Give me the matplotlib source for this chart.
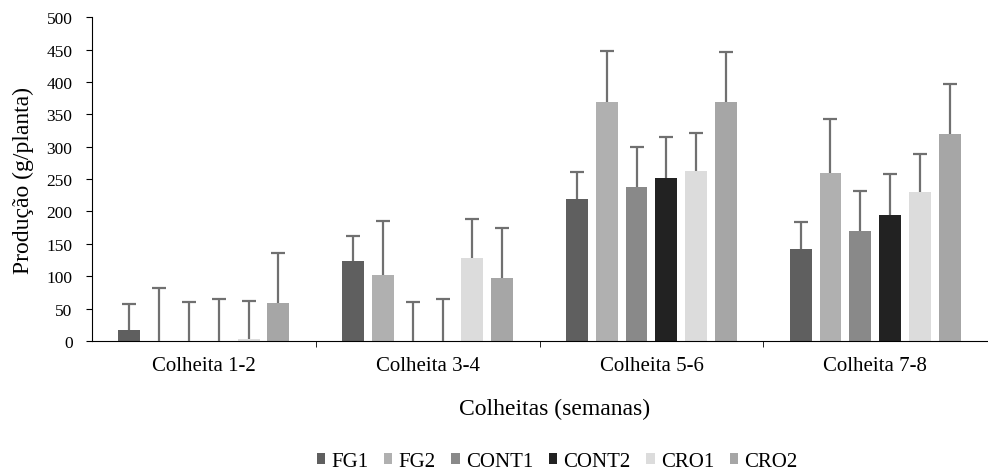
import numpy as np
import matplotlib.pyplot as plt

plt.rcParams['font.family'] = ['Liberation Serif', 'DejaVu Serif']

categorias = ['Colheita 1-2', 'Colheita 3-4', 'Colheita 5-6', 'Colheita 7-8']
series = ['FG1', 'FG2', 'CONT1', 'CONT2', 'CRO1', 'CRO2']

# medias (g/planta)
fg1 = [17, 123, 219, 142]
fg2 = [0, 102, 369, 259]
cont1 = [0, 0, 238, 170]
cont2 = [0, 0, 252, 194]
cro1 = [3, 128, 262, 230]
cro2 = [59, 97, 369, 319]

# desvio (barra de erro para cima)
fg1_err = [40, 39, 42, 42]
fg2_err = [82, 83, 79, 84]
cont1_err = [60, 60, 61, 61]
cont2_err = [65, 65, 63, 64]
cro1_err = [59, 60, 59, 59]
cro2_err = [77, 77, 77, 78]

valores = [fg1, fg2, cont1, cont2, cro1, cro2]
erros = [fg1_err, fg2_err, cont1_err, cont2_err, cro1_err, cro2_err]
cores = ['#5f5f5f', '#b0b0b0', '#898989', '#222222', '#dcdcdc', '#a6a6a6']

fig = plt.figure(figsize=(9.88, 4.77), dpi=100)
ax = fig.add_axes([0.0931, 0.283, 0.906, 0.679])

x = np.arange(len(categorias))
passo = 0.1333
larg = 0.098
for i, (nome, v, e, c) in enumerate(zip(series, valores, erros, cores)):
	pos = x + (i - 2.5) * passo
	v = np.array(v)
	topo = v + np.array(e)
	ax.bar(pos, v, larg, color=c, label=nome, zorder=2)
	# so a metade de cima da barra de erro
	ax.vlines(pos, v, topo, colors='#707070', linewidth=1.6, zorder=3)
	ax.plot(pos, topo, linestyle='none', marker='_', markersize=10,
			markeredgewidth=1.6, color='#707070', zorder=3)

ax.set_xlim(-0.5, len(categorias) - 0.5)
ax.set_ylim(0, 500)
ax.set_yticks(range(0, 501, 50))
ax.set_xticks(x)
ax.set_xticklabels(categorias, fontsize=15)
ax.set_xticks(np.arange(0.5, len(categorias) - 0.5, 1), minor=True)
ax.tick_params(axis='x', which='major', length=0, pad=11)
ax.tick_params(axis='x', which='minor', length=4, direction='out')
ax.tick_params(axis='y', labelsize=12.5, length=4, direction='out', pad=10)
ax.spines['top'].set_visible(False)
ax.spines['right'].set_visible(False)

ax.set_xlabel('Colheitas (semanas)', fontsize=17)
ax.xaxis.set_label_coords(0.517, -0.175)
ax.set_ylabel('Produção (g/planta)', fontsize=17, labelpad=9)

fig.legend(loc='center', bbox_to_anchor=(0.564, 0.03), ncol=6, frameon=False,
		   fontsize=15, handlelength=0.4, handleheight=0.4, handletextpad=0.3,
		   columnspacing=0.75)

fig.savefig('out.png', dpi=100)
